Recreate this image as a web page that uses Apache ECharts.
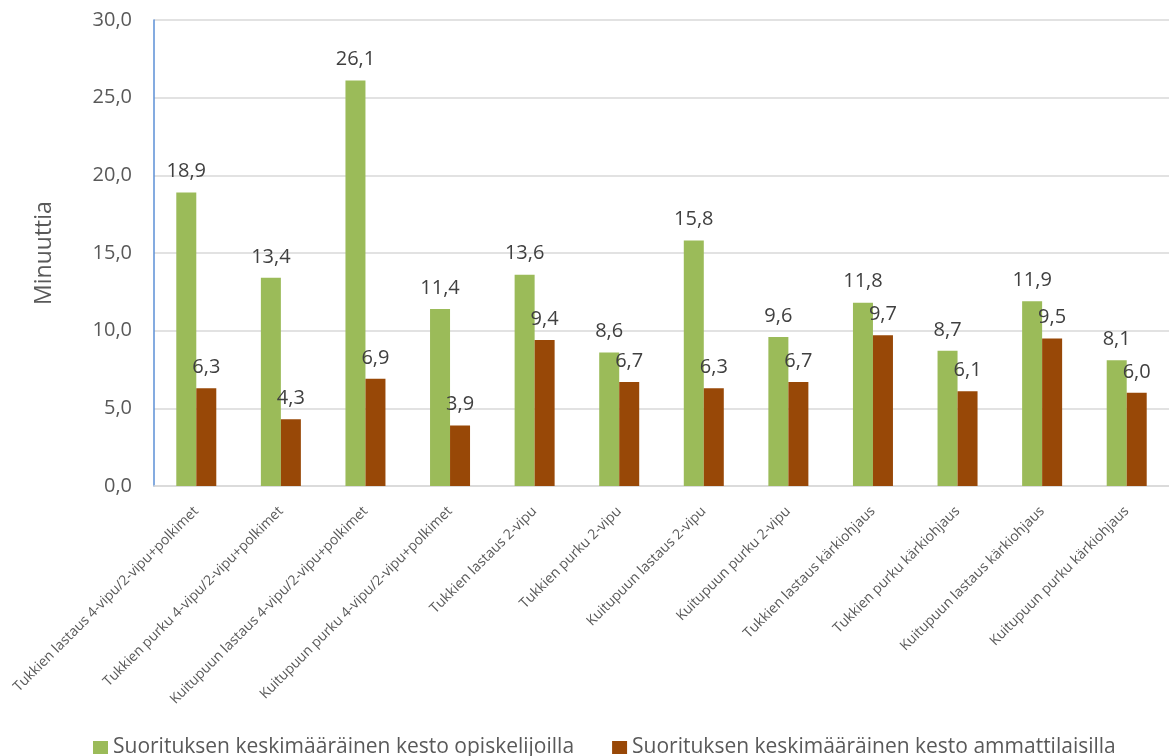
<!DOCTYPE html>
<html>
<head>
<meta charset="utf-8">
<script src="https://cdn.jsdelivr.net/npm/echarts@6/dist/echarts.min.js"></script>
<style>
  html, body { margin: 0; padding: 0; background: #fff; }
  #chart { width: 1169px; height: 756px; }
</style>
</head>
<body>
<div id="chart"></div>
<script>
// Task categories (x axis)
const categories = [
  'Tukkien lastaus 4-vipu/2-vipu+polkimet',
  'Tukkien purku 4-vipu/2-vipu+polkimet',
  'Kuitupuun lastaus 4-vipu/2-vipu+polkimet',
  'Kuitupuun purku 4-vipu/2-vipu+polkimet',
  'Tukkien lastaus 2-vipu',
  'Tukkien purku 2-vipu',
  'Kuitupuun lastaus 2-vipu',
  'Kuitupuun purku 2-vipu',
  'Tukkien lastaus kärkiohjaus',
  'Tukkien purku kärkiohjaus',
  'Kuitupuun lastaus kärkiohjaus',
  'Kuitupuun purku kärkiohjaus'
];

// Average duration in minutes
const students = [18.9, 13.4, 26.1, 11.4, 13.6, 8.6, 15.8, 9.6, 11.8, 8.7, 11.9, 8.1];
const professionals = [6.3, 4.3, 6.9, 3.9, 9.4, 6.7, 6.3, 6.7, 9.7, 6.1, 9.5, 6.0];

const seriesNames = [
  'Suorituksen keskimääräinen kesto opiskelijoilla',
  'Suorituksen keskimääräinen kesto ammattilaisilla'
];

const FONT = '"Open Sans", "DejaVu Sans", sans-serif';
const fmt = v => v.toFixed(1).replace('.', ',');

const chart = echarts.init(document.getElementById('chart'), null, { renderer: 'canvas' });

const labelStyle = {
  show: true,
  position: 'top',
  distance: 11,
  fontFamily: FONT,
  fontSize: 20,
  color: '#404040',
  formatter: p => fmt(p.value)
};

chart.setOption({
  animation: false,
  backgroundColor: '#ffffff',
  textStyle: { fontFamily: FONT },
  grid: { left: 154, right: -6, top: 20, bottom: 270, containLabel: false },
  legend: {
    top: 732,
    left: 88,
    itemWidth: 15,
    itemHeight: 13,
    itemGap: 38,
    icon: 'rect',
    textStyle: { fontFamily: FONT, fontSize: 21, color: '#595959' },
    data: seriesNames
  },
  xAxis: {
    type: 'category',
    data: categories,
    axisLine: { show: true, lineStyle: { color: '#d9d9d9', width: 1.5 } },
    axisTick: { show: false },
    axisLabel: {
      interval: 0,
      rotate: 45,
      margin: 23,
      fontFamily: FONT,
      fontSize: 14,
      color: '#595959'
    }
  },
  yAxis: {
    type: 'value',
    min: 0,
    max: 30,
    interval: 5,
    name: 'Minuuttia',
    nameLocation: 'middle',
    nameGap: 98,
    nameTextStyle: { fontFamily: FONT, fontSize: 23, color: '#595959' },
    axisLine: { show: true, lineStyle: { color: '#5b8fd6', width: 1.5 } },
    axisTick: { show: false },
    axisLabel: {
      margin: 22,
      fontFamily: FONT,
      fontSize: 20,
      color: '#595959',
      formatter: v => fmt(v)
    },
    splitLine: { lineStyle: { color: '#d9d9d9', width: 1.5 } }
  },
  series: [
    {
      name: seriesNames[0],
      type: 'bar',
      data: students,
      barWidth: 20,
      barGap: '0%',
      itemStyle: { color: '#9bbb59' },
      label: labelStyle
    },
    {
      name: seriesNames[1],
      type: 'bar',
      data: professionals,
      barWidth: 20,
      barGap: '0%',
      itemStyle: { color: '#984807' },
      label: labelStyle
    }
  ]
});
</script>
</body>
</html>
